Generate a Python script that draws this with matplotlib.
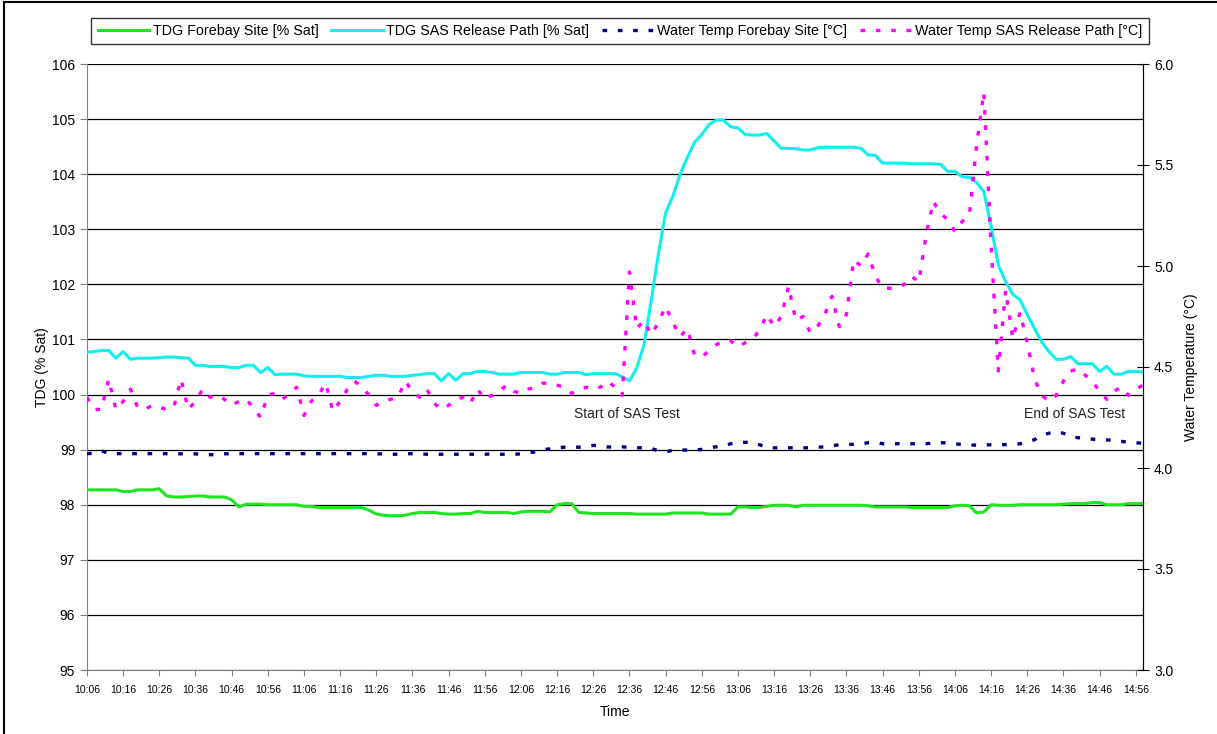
import numpy as np
import matplotlib
matplotlib.use("Agg")
import matplotlib.pyplot as plt
from matplotlib.lines import Line2D

plt.rcParams['font.family'] = ['Liberation Sans', 'DejaVu Sans']

# readings every 2 minutes, 10:06 to 14:58
tick_labels = ['10:06', '10:16', '10:26', '10:36', '10:46', '10:56', '11:06', '11:16',
               '11:26', '11:36', '11:46', '11:56', '12:06', '12:16', '12:26', '12:36',
               '12:46', '12:56', '13:06', '13:16', '13:26', '13:36', '13:46', '13:56',
               '14:06', '14:16', '14:26', '14:36', '14:46', '14:56']

tdg_forebay = [
    98.27, 98.27, 98.27, 98.27, 98.27, 98.24, 98.24, 98.27, 98.27, 98.27,
    98.29, 98.16, 98.14, 98.14, 98.15, 98.16, 98.16, 98.14, 98.14, 98.14,
    98.09, 97.96, 98.01, 98.01, 98.01, 98.00, 98.00, 98.00, 98.00, 98.00,
    97.97, 97.97, 97.95, 97.95, 97.95, 97.95, 97.95, 97.95, 97.95, 97.90,
    97.83, 97.81, 97.80, 97.80, 97.81, 97.84, 97.86, 97.86, 97.86, 97.84,
    97.83, 97.83, 97.84, 97.84, 97.88, 97.86, 97.86, 97.86, 97.86, 97.84,
    97.87, 97.88, 97.88, 97.88, 97.87, 98.00, 98.02, 98.02, 97.86, 97.85,
    97.84, 97.84, 97.84, 97.84, 97.84, 97.84, 97.83, 97.83, 97.83, 97.83,
    97.83, 97.85, 97.85, 97.85, 97.85, 97.85, 97.83, 97.83, 97.83, 97.83,
    97.96, 97.96, 97.95, 97.95, 97.97, 97.99, 97.99, 97.99, 97.96, 97.99,
    97.99, 97.99, 97.99, 97.99, 97.99, 97.99, 97.99, 97.99, 97.98, 97.96,
    97.96, 97.96, 97.96, 97.96, 97.95, 97.95, 97.95, 97.95, 97.95, 97.95,
    97.98, 97.99, 97.98, 97.85, 97.87, 98.00, 97.99, 97.99, 97.99, 98.00,
    98.00, 98.00, 98.00, 98.00, 98.00, 98.01, 98.02, 98.02, 98.02, 98.04,
    98.04, 98.00, 98.00, 98.00, 98.02, 98.02, 98.02,
]

tdg_sas = [
    100.77, 100.78, 100.80, 100.80, 100.66, 100.78, 100.64, 100.66, 100.66, 100.66,
    100.67, 100.68, 100.68, 100.67, 100.66, 100.53, 100.53, 100.51, 100.51, 100.51,
    100.49, 100.49, 100.53, 100.53, 100.40, 100.49, 100.36, 100.37, 100.37, 100.37,
    100.34, 100.33, 100.33, 100.33, 100.33, 100.33, 100.31, 100.31, 100.31, 100.33,
    100.35, 100.35, 100.33, 100.33, 100.33, 100.35, 100.36, 100.38, 100.38, 100.25,
    100.38, 100.26, 100.38, 100.38, 100.42, 100.42, 100.40, 100.37, 100.37, 100.37,
    100.40, 100.40, 100.40, 100.40, 100.37, 100.37, 100.40, 100.40, 100.40, 100.36,
    100.38, 100.38, 100.38, 100.38, 100.32, 100.25, 100.48, 100.90, 101.70, 102.55,
    103.30, 103.60, 104.00, 104.30, 104.58, 104.72, 104.90, 104.98, 104.98, 104.86,
    104.84, 104.72, 104.71, 104.71, 104.74, 104.60, 104.47, 104.47, 104.46, 104.44,
    104.44, 104.48, 104.49, 104.49, 104.49, 104.49, 104.49, 104.47, 104.35, 104.34,
    104.20, 104.20, 104.20, 104.20, 104.19, 104.19, 104.19, 104.19, 104.18, 104.05,
    104.05, 103.95, 103.94, 103.85, 103.68, 103.05, 102.35, 102.05, 101.82, 101.72,
    101.45, 101.20, 100.95, 100.78, 100.64, 100.64, 100.69, 100.56, 100.56, 100.56,
    100.42, 100.51, 100.37, 100.37, 100.42, 100.42, 100.41,
]

temp_forebay = [
    4.070, 4.075, 4.085, 4.072, 4.071, 4.071, 4.071, 4.071, 4.071, 4.071,
    4.071, 4.071, 4.071, 4.070, 4.070, 4.070, 4.066, 4.066, 4.066, 4.070,
    4.071, 4.071, 4.071, 4.071, 4.071, 4.071, 4.071, 4.071, 4.071, 4.071,
    4.071, 4.071, 4.071, 4.071, 4.071, 4.071, 4.071, 4.071, 4.071, 4.071,
    4.070, 4.070, 4.068, 4.068, 4.070, 4.071, 4.070, 4.068, 4.068, 4.068,
    4.068, 4.068, 4.068, 4.068, 4.068, 4.068, 4.070, 4.068, 4.068, 4.068,
    4.070, 4.075, 4.080, 4.090, 4.095, 4.100, 4.103, 4.103, 4.103, 4.105,
    4.112, 4.110, 4.104, 4.104, 4.105, 4.102, 4.100, 4.100, 4.097, 4.085,
    4.080, 4.088, 4.089, 4.089, 4.089, 4.092, 4.100, 4.105, 4.110, 4.120,
    4.127, 4.127, 4.127, 4.115, 4.100, 4.100, 4.100, 4.100, 4.100, 4.100,
    4.100, 4.103, 4.105, 4.110, 4.115, 4.117, 4.117, 4.120, 4.125, 4.127,
    4.120, 4.120, 4.120, 4.120, 4.120, 4.120, 4.120, 4.124, 4.125, 4.125,
    4.120, 4.116, 4.114, 4.113, 4.114, 4.115, 4.115, 4.116, 4.118, 4.120,
    4.130, 4.140, 4.163, 4.172, 4.180, 4.172, 4.155, 4.150, 4.147, 4.143,
    4.139, 4.139, 4.137, 4.132, 4.127, 4.125, 4.122,
]

temp_sas = [
    4.35, 4.29, 4.29, 4.44, 4.29, 4.33, 4.39, 4.30, 4.29, 4.31,
    4.30, 4.29, 4.30, 4.44, 4.29, 4.33, 4.39, 4.35, 4.36, 4.34,
    4.31, 4.33, 4.34, 4.30, 4.25, 4.36, 4.37, 4.34, 4.37, 4.40,
    4.26, 4.33, 4.36, 4.42, 4.28, 4.33, 4.39, 4.43, 4.40, 4.36,
    4.31, 4.33, 4.34, 4.35, 4.43, 4.38, 4.35, 4.39, 4.32, 4.29,
    4.31, 4.34, 4.35, 4.32, 4.39, 4.34, 4.36, 4.38, 4.41, 4.38,
    4.37, 4.39, 4.40, 4.42, 4.42, 4.41, 4.40, 4.37, 4.38, 4.40,
    4.39, 4.40, 4.43, 4.40, 4.36, 4.97, 4.69, 4.73, 4.66, 4.72,
    4.80, 4.72, 4.65, 4.69, 4.56, 4.55, 4.58, 4.61, 4.63, 4.63,
    4.60, 4.62, 4.64, 4.68, 4.76, 4.70, 4.75, 4.90, 4.73, 4.75,
    4.67, 4.70, 4.76, 4.85, 4.70, 4.76, 5.03, 5.00, 5.06, 4.95,
    4.89, 4.89, 4.89, 4.91, 4.95, 4.92, 5.15, 5.32, 5.26, 5.23,
    5.17, 5.22, 5.25, 5.60, 5.86, 5.10, 4.48, 4.88, 4.64, 4.77,
    4.62, 4.44, 4.36, 4.33, 4.36, 4.43, 4.48, 4.49, 4.46, 4.43,
    4.38, 4.34, 4.38, 4.40, 4.36, 4.39, 4.41,
]

x = np.arange(len(tdg_sas))

fig = plt.figure(figsize=(12.17, 7.34), dpi=100)
ax = fig.add_axes([87 / 1217, 1 - 670 / 734, (1143 - 87) / 1217, (670 - 64) / 734])
ax2 = ax.twinx()

# horizontal grid on the TDG axis
ax.set_ylim(95, 106)
ax.set_yticks(np.arange(95, 107, 1))
ax.grid(axis='y', color='black', linewidth=0.9)
ax.set_axisbelow(True)

l1, = ax.plot(x, tdg_forebay, color='#1EE61E', linewidth=2.2, zorder=3)
l2, = ax.plot(x, tdg_sas, color='#10EEEE', linewidth=2.2, zorder=3)
l3, = ax2.plot(x, temp_forebay, color='#000080', linewidth=2.4,
               linestyle=(0, (1.4, 3.2)))
l4, = ax2.plot(x, temp_sas, color='#FF00FF', linewidth=2.4,
               linestyle=(0, (1.4, 3.2)))

ax.set_xlim(0, len(x) - 1)
ax.set_xticks(x[::5])
ax.set_xticklabels(tick_labels, fontsize=7.5)
ax.tick_params(axis='x', length=4, color='#808080', pad=7)
ax.tick_params(axis='y', labelsize=10, length=5, direction='out', color='#808080')

ax2.set_ylim(3.0, 6.0)
ax2.set_yticks(np.arange(3.0, 6.01, 0.5))
ax2.set_yticklabels([f'{v:.1f}' for v in np.arange(3.0, 6.01, 0.5)])
ax2.tick_params(axis='y', labelsize=10, length=9, direction='inout', color='black')

for a in (ax, ax2):
    a.spines['top'].set_visible(False)
ax.spines['left'].set_color('#808080')
ax.spines['bottom'].set_color('#808080')
ax2.spines['left'].set_visible(False)
ax2.spines['bottom'].set_visible(False)
ax2.spines['right'].set_color('black')

ax.set_ylabel('TDG (% Sat)', fontsize=10, labelpad=2)
ax2.set_ylabel('Water Temperature (°C)', fontsize=10, labelpad=8)
ax.set_xlabel('Time', fontsize=10, labelpad=7)

ax.text(74.7, 99.65, 'Start of SAS Test', fontsize=10, ha='center', va='center', color='#222222')
ax.text(136.6, 99.65, 'End of SAS Test', fontsize=10, ha='center', va='center', color='#222222')

leg = fig.legend([l1, l2, l3, l4],
                 ['TDG Forebay Site [% Sat]', 'TDG SAS Release Path [% Sat]',
                  'Water Temp Forebay Site [°C]', 'Water Temp SAS Release Path [°C]'],
                 loc='center', bbox_to_anchor=(620 / 1217, 1 - 31 / 734), ncol=4,
                 fontsize=10.3, frameon=True, fancybox=False, handlelength=3.6,
                 columnspacing=0.9, handletextpad=0.25, borderpad=0.45)
leg.get_frame().set_edgecolor('black')
leg.get_frame().set_linewidth(1.0)

# chart-area border (only left and top edges visible in the image)
fig.add_artist(Line2D([4 / 1217, 4 / 1217], [0, 1 - 2 / 734], color='black', linewidth=1.5,
                      transform=fig.transFigure))
fig.add_artist(Line2D([4 / 1217, 1], [1 - 2 / 734, 1 - 2 / 734], color='black', linewidth=1.5,
                      transform=fig.transFigure))

fig.savefig('out.png', dpi=100)
